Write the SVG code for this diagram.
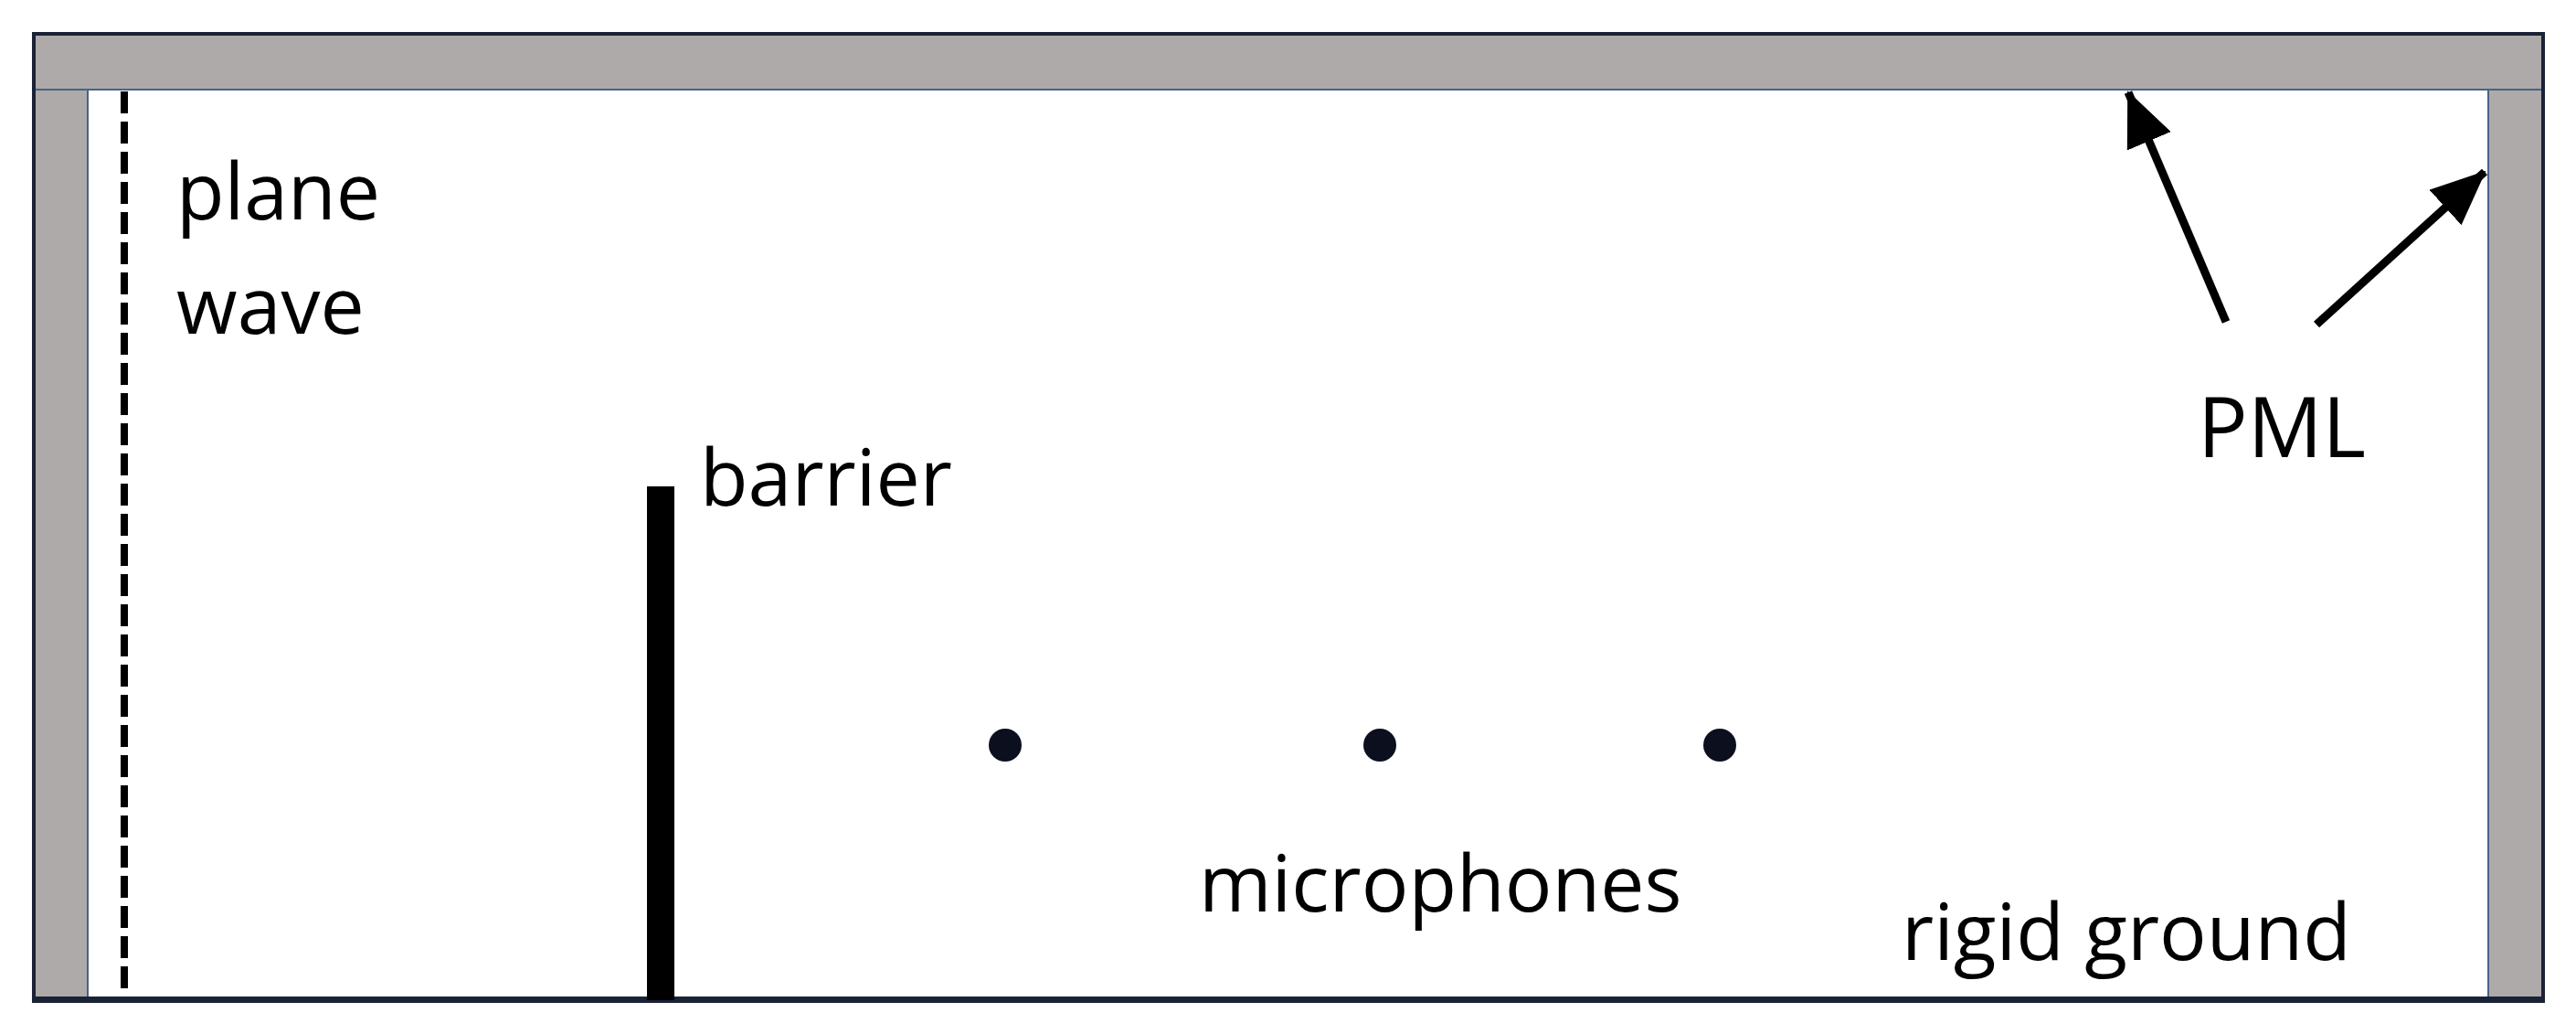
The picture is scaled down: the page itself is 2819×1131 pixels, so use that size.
<svg xmlns="http://www.w3.org/2000/svg" width="2819" height="1131" viewBox="0 0 2819 1131">
<defs>
<style>
.lbl{font-family:"Open Sans","Liberation Sans",sans-serif;font-size:86px;fill:#000}
.pml{fill:#aeaaa9;stroke:#4a6285;stroke-width:2}
.arr{stroke:#000;stroke-width:9;fill:none;marker-end:url(#ah)}
</style>
<marker id="ah" markerUnits="userSpaceOnUse" viewBox="0 0 60 52" refX="58" refY="26" markerWidth="60" markerHeight="52" orient="auto">
<path d="M0,0 L60,26 L0,52 Z" fill="#000"/>
</marker>
</defs>
<rect width="2819" height="1131" fill="#fff"/>
<g id="domain">
<rect x="37" y="37" width="2746" height="1058" fill="#fff" stroke="none"/>
<rect class="pml" x="38" y="38" width="2744" height="60"/>
<rect class="pml" x="38" y="98" width="58" height="996"/>
<rect class="pml" x="2723" y="98" width="59" height="996"/>
<rect x="37" y="37" width="2746" height="1058" fill="none" stroke="#1a2236" stroke-width="4"/>
<line x1="37" y1="1093" x2="2783" y2="1093" stroke="#1a2236" stroke-width="6"/>
</g>
<g id="plane-wave">
<line x1="136" y1="100" x2="136" y2="1088" stroke="#000" stroke-width="8" stroke-dasharray="24 9"/>
<text class="lbl" x="193" y="240">plane</text>
<text class="lbl" x="193" y="365">wave</text>
</g>
<g id="barrier">
<rect x="708" y="532" width="30" height="562" fill="#000"/>
<text class="lbl" x="766" y="553">barrier</text>
</g>
<g id="microphones">
<circle cx="1100" cy="815" r="18" fill="#0b0f1e"/>
<circle cx="1510" cy="815" r="18" fill="#0b0f1e"/>
<circle cx="1882" cy="815" r="18" fill="#0b0f1e"/>
<text class="lbl" x="1312" y="997">microphones</text>
</g>
<g id="ground">
<text class="lbl" x="2081" y="1050">rigid ground</text>
</g>
<g id="pml-label">
<text class="lbl" x="2405" y="500" style="font-size:91px">PML</text>
</g>
<g id="connectors">
<line class="arr" x1="2436" y1="352" x2="2329" y2="101"/>
<line class="arr" x1="2535" y1="355" x2="2719" y2="188"/>
</g>
</svg>
